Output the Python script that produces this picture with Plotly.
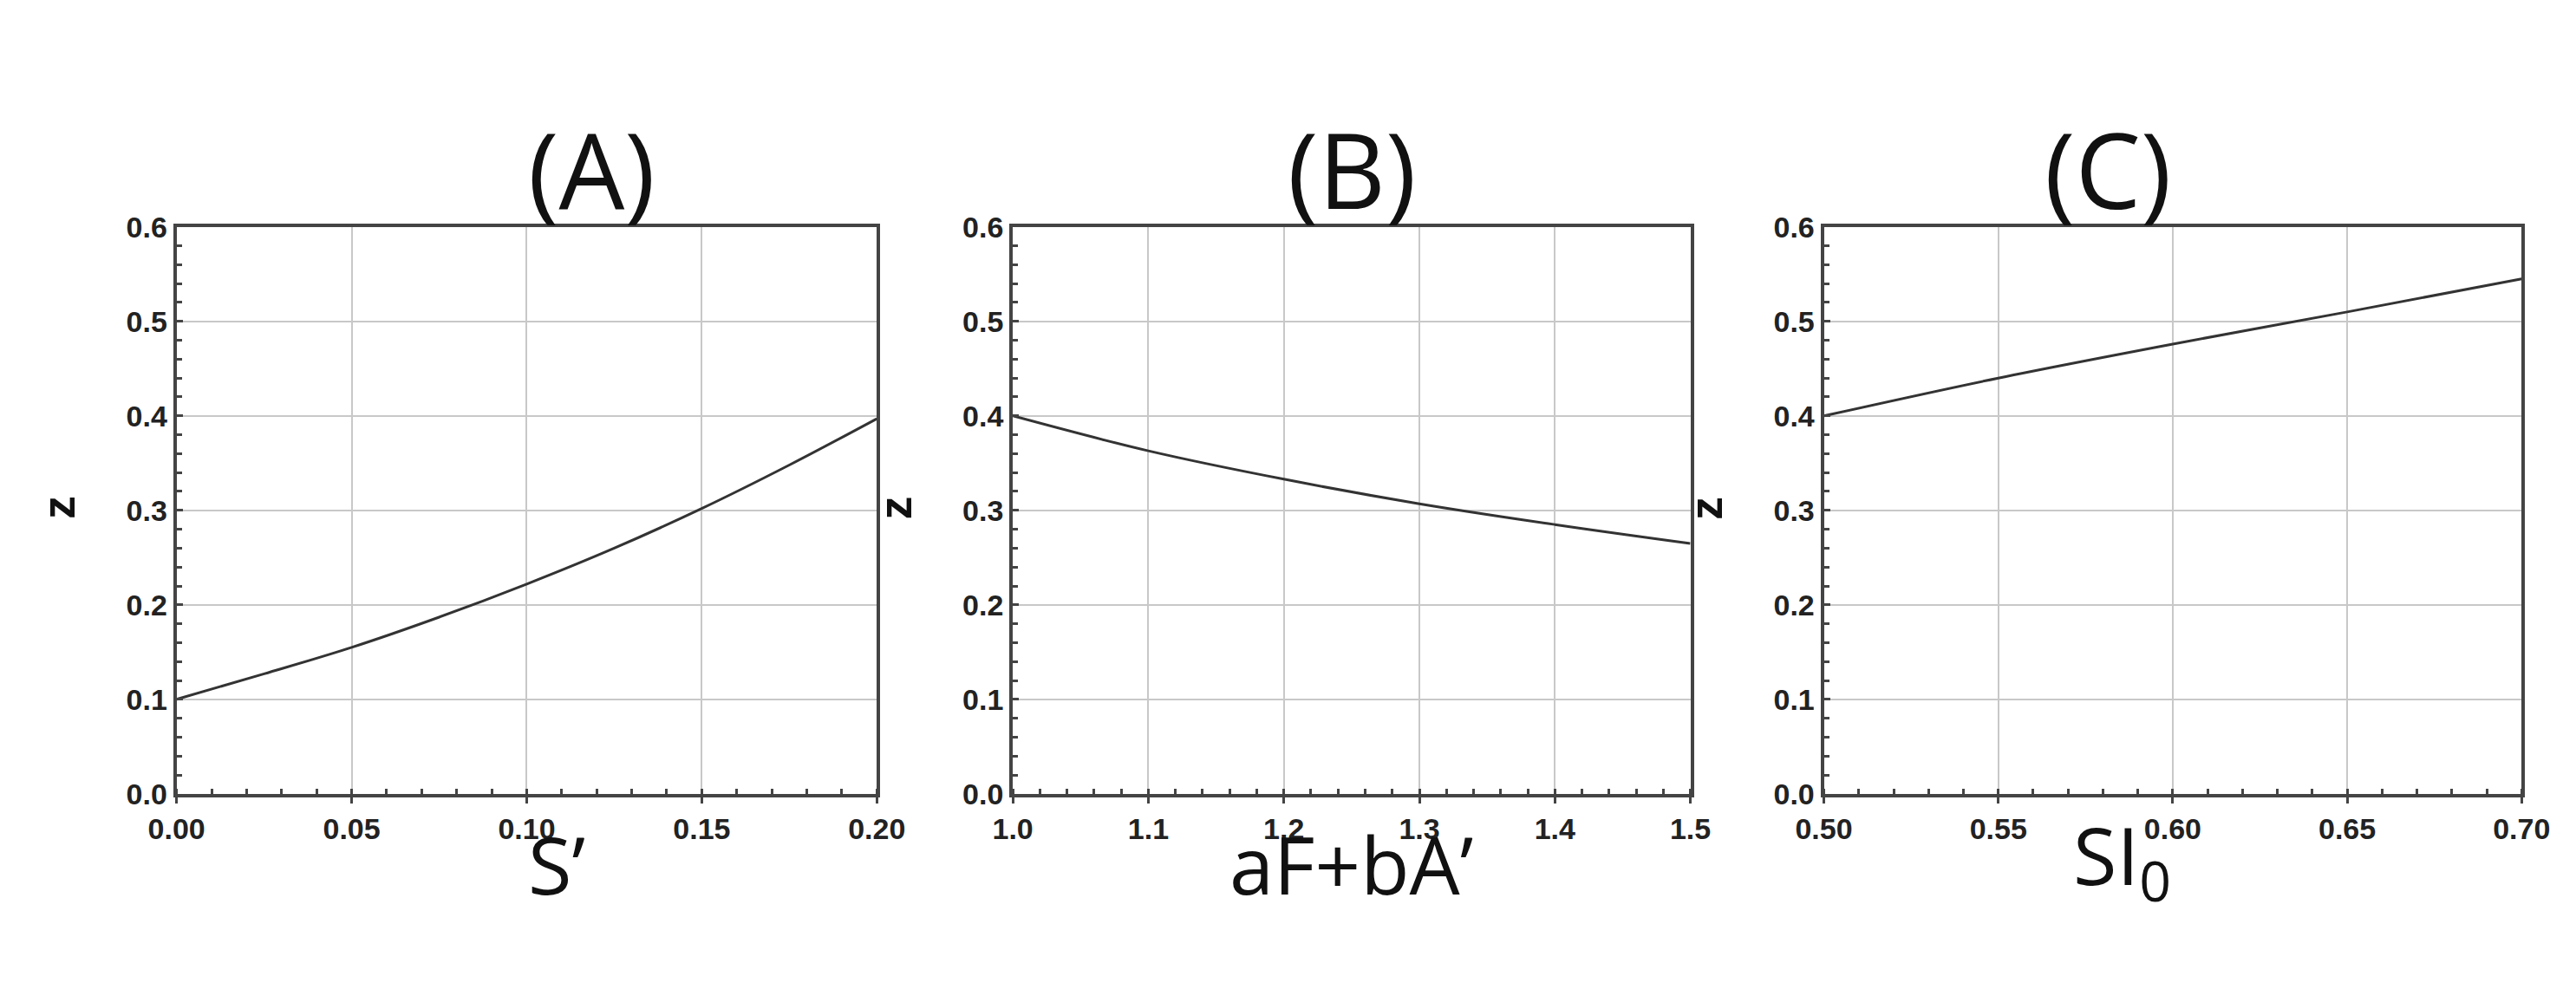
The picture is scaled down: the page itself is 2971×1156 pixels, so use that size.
import plotly.graph_objects as go

ax_x = [0.0, 0.025, 0.05, 0.075, 0.1, 0.125, 0.15, 0.175, 0.2]
ax_z = [0.100, 0.127, 0.155, 0.187, 0.222, 0.260, 0.302, 0.348, 0.397]
bx_x = [1.0, 1.1, 1.2, 1.3, 1.4, 1.5]
bx_z = [0.400, 0.363, 0.333, 0.307, 0.285, 0.265]
cx_x = [0.50, 0.55, 0.60, 0.65, 0.70]
cx_z = [0.400, 0.440, 0.476, 0.510, 0.545]
titles = ["(A)", "(B)", "(C)"]
xlabels = ["S’", "aF+bA’", "SI<sub>0</sub>"]

domains = [(0.056, 0.334), (0.388, 0.657), (0.710, 0.987)]
ydom = (0.205, 0.79)
xcfg = [
    dict(range=[0, 0.2], dtick=0.05, tickformat=".2f"),
    dict(range=[1.0, 1.5], dtick=0.1, tickformat=".1f"),
    dict(range=[0.5, 0.7], dtick=0.05, tickformat=".2f"),
]
fig = go.Figure()
data = [(ax_x, ax_z), (bx_x, bx_z), (cx_x, cx_z)]
tickfont = dict(family="Liberation Sans", size=34, color="#222", weight="bold")
for i, (xs, zs) in enumerate(data):
    n = "" if i == 0 else str(i + 1)
    fig.add_trace(go.Scatter(x=xs, y=zs, mode="lines", line=dict(color="#333", width=3, shape="spline"),
                             xaxis="x" + n, yaxis="y" + n, showlegend=False))
    common = dict(showgrid=True, gridcolor="#c8c8c8", gridwidth=2, showline=True, linecolor="#444",
                  linewidth=4, mirror=True, ticklen=7, tickwidth=3, tickcolor="#444",
                  tickfont=tickfont, zeroline=False,
                  minor=dict(ticks="inside", ticklen=6, tickwidth=3, tickcolor="#444", showgrid=False))
    fig.layout["xaxis" + n] = dict(domain=domains[i], anchor="y" + n, ticks="outside", **xcfg[i], **common)
    fig.layout["yaxis" + n] = dict(domain=ydom, anchor="x" + n, range=[0, 0.6], dtick=0.1,
                                   tickformat=".1f", ticks="inside", **common)
    xc = (domains[i][0] + domains[i][1]) / 2
    fig.add_annotation(text=titles[i], x=xc, y=0.925, xref="paper", yref="paper", showarrow=False,
                       font=dict(family="Open Sans", size=120, color="#111"))
    fig.add_annotation(text=xlabels[i], x=xc, y=0.075, xref="paper", yref="paper", showarrow=False,
                       font=dict(family="Open Sans", size=92, color="#111"))
    fig.add_annotation(text="<b>z</b>", x=domains[i][0] - 0.036, y=0.5, xref="paper", yref="paper",
                       xanchor="right", showarrow=False, textangle=-90,
                       font=dict(family="Liberation Sans", size=54, color="#111"))

fig.update_layout(width=2971, height=1156, margin=dict(l=0, r=0, t=0, b=0),
                  plot_bgcolor="white", paper_bgcolor="white")
fig.write_html("out.html")
